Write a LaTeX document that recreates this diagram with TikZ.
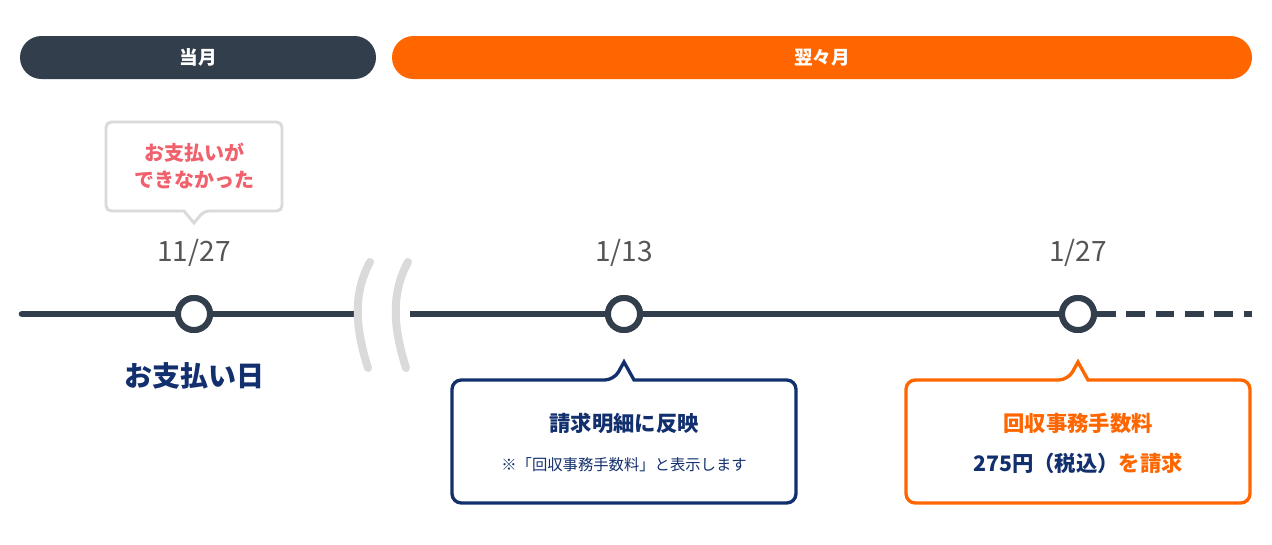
\documentclass[tikz,border=0pt]{standalone}
\usepackage{fontspec}
\newfontfamily\jp{Noto Sans CJK JP}
\setmainfont{Noto Sans CJK JP}
\definecolor{dark}{HTML}{323E4B}
\definecolor{orng}{HTML}{FF6600}
\definecolor{navy}{HTML}{13306E}
\definecolor{pink}{HTML}{F0616D}
\definecolor{lgrey}{HTML}{DADADA}
\definecolor{dgrey}{HTML}{555555}
\tikzset{
  bar/.style={rounded corners=21.5*0.75pt, minimum height=43*0.75pt, inner sep=0pt, text=white, font=\bfseries\fontsize{14}{16}\selectfont},
  dot/.style={circle, draw=dark, line width=4.5pt, fill=white, minimum size=32*0.75pt, inner sep=0pt},
  date/.style={text=dgrey, font=\fontsize{21}{24}\selectfont},
  tl/.style={dark, line width=5pt},
}
\begin{document}
\begin{tikzpicture}[x=0.75pt,y=-0.75pt]
\useasboundingbox[fill=white] (0,0) rectangle (1272,544);
\node[bar, fill=dark, minimum width=356*0.75pt] (b1) at (198,57.5) {当月};
\node[bar, fill=orng, minimum width=860*0.75pt] (b2) at (822,57.5) {翌々月};
% timeline
\coordinate (s0) at (22,314);
\coordinate (s1) at (358,314);
\coordinate (s2) at (410,314);
\coordinate (s3) at (1252,314);
\node[dot] (c1) at (194,314) {};
\node[dot] (c2) at (624,314) {};
\node[dot] (c3) at (1078,314) {};
\draw[tl, line cap=round] (s0) -- (c1) -- (s1);
\draw[tl] (s2) -- (c2) -- (c3);
\draw[tl, dash pattern=on 14pt off 8pt] (c3.east) -- (s3);
\node[dot] at (c1) {};\node[dot] at (c2) {};\node[dot] at (c3) {};
% squiggles
\draw[lgrey, line width=6pt, line cap=round] (370,262) .. controls (352,295) and (356,330) .. (368,368);
\draw[lgrey, line width=6pt, line cap=round] (408,262) .. controls (390,295) and (394,330) .. (406,368);
% dates
\node[date] (d1) at (194,253) {11/27};
\node[date] (d2) at (624,253) {1/13};
\node[date] (d3) at (1078,253) {1/27};
% grey callout
\draw[lgrey, line width=2.2pt, fill=white, rounded corners=4pt] (106,122) -- (282,122) -- (282,211) -- (204,211) [sharp corners]-- (194,223) -- (184,211) [rounded corners=4pt] -- (106,211) -- cycle;
\node[text=pink, font=\bfseries\fontsize{15}{20}\selectfont, align=center] (g) at (194,166) {お支払いが\\できなかった};
\node[text=navy, font=\bfseries\fontsize{21}{24}\selectfont] (pd) at (194,376) {お支払い日};
% navy callout
\draw[navy, line width=2.5pt, fill=white, rounded corners=7pt] (452,380) -- (614,380) [sharp corners]-- (624,362) -- (634,380) [rounded corners=7pt] -- (796,380) -- (796,503) -- (452,503) -- cycle;
\node[text=navy, font=\bfseries\fontsize{16}{20}\selectfont] (n1) at (624,423) {請求明細に反映};
\node[text=navy, font=\fontsize{11.5}{14}\selectfont] (n2) at (624,465) {※「回収事務手数料」と表示します};
% orange callout
\draw[orng, line width=2.5pt, fill=white, rounded corners=7pt] (906,380) -- (1068,380) [sharp corners]-- (1078,362) -- (1088,380) [rounded corners=7pt] -- (1250,380) -- (1250,503) -- (906,503) -- cycle;
\node[text=orng, font=\bfseries\fontsize{16}{20}\selectfont] (o1) at (1078,423) {回収事務手数料};
\node[font=\bfseries\fontsize{16}{20}\selectfont] (o2) at (1078,463) {\textcolor{navy}{275円（税込）}\textcolor{orng}{を請求}};
\end{tikzpicture}
\end{document}
